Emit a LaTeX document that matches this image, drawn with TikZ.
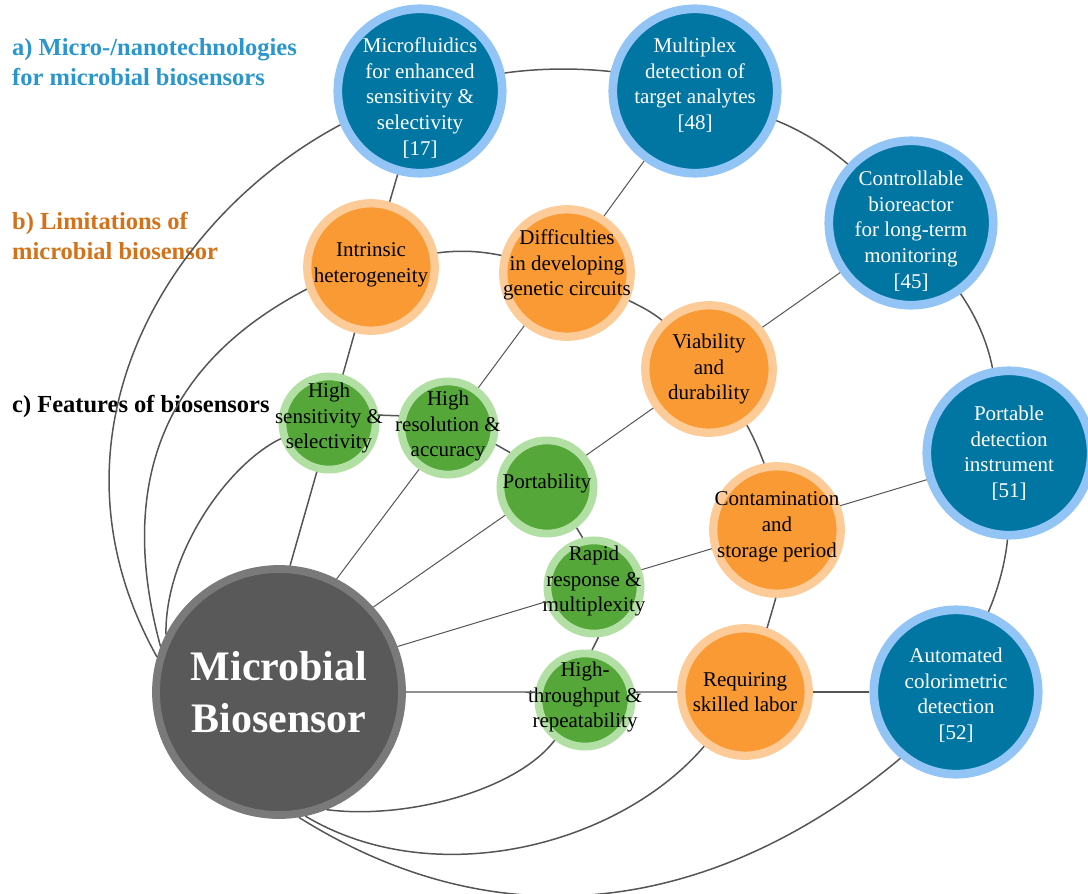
\documentclass[tikz,border=0pt]{standalone}
\usepackage{fontspec}
\setmainfont{Liberation Serif}
\usepackage{xcolor}

\begin{document}
\begin{tikzpicture}[x=1pt,y=-1pt,
  bignode/.style={circle,fill=grayfill,draw=grayring,line width=7.8pt,minimum size=246pt,inner sep=0pt},
  bluenode/.style={circle,fill=bluefill,draw=bluering,line width=8.7pt,minimum size=164.4pt,inner sep=0pt},
  orangenode/.style={circle,fill=orangefill,draw=orangering,line width=8.3pt,minimum size=127.4pt,inner sep=0pt},
  greennode/.style={circle,fill=greenfill,draw=greenring,line width=7.8pt,minimum size=93.2pt,inner sep=0pt},
  nodetext/.style={align=center,inner sep=0pt,font=\fontsize{21}{25.7}\selectfont},
  heading/.style={anchor=base west,align=left,inner sep=0pt,font=\fontsize{24.5}{30}\selectfont\bfseries},
  ring/.style={draw=linegray,line width=1.5pt},
  spoke/.style={draw=linegray,line width=1pt}]
\definecolor{bluefill}{HTML}{0176A2}
\definecolor{bluering}{HTML}{92C5F5}
\definecolor{orangefill}{HTML}{F99A34}
\definecolor{orangering}{HTML}{FDCB98}
\definecolor{greenfill}{HTML}{56A73A}
\definecolor{greenring}{HTML}{B2DFA3}
\definecolor{grayfill}{HTML}{595959}
\definecolor{grayring}{HTML}{7A7A7A}
\definecolor{linegray}{HTML}{555555}
\definecolor{labelblue}{HTML}{2A96CE}
\definecolor{labelorange}{HTML}{D4721A}
\useasboundingbox (0,0) rectangle (1088,894);

\node[heading,labelblue] (heada) at (12,85) {a) Micro-/nanotechnologies\\for microbial biosensors};
\node[heading,labelorange] (headb) at (12,259) {b) Limitations of\\microbial biosensor};
\node[heading] (headc) at (12,412) {c) Features of biosensors};

\node[bignode,label={[nodetext,white,font=\fontsize{42}{52}\selectfont\bfseries]center:{Microbial\\Biosensor}}] (mb) at (279,692) {};

\foreach \nm/\px/\py/\sh/\txt in {micro/420/91/-7/{Microfluidics\\for enhanced\\sensitivity \&\\selectivity\\{[17]}},
  multi/695/91/6/{Multiplex\\detection of\\target analytes\\{[48]}},
  bioreac/911/223/-8/{Controllable\\bioreactor\\for long-term\\monitoring\\{[45]}},
  portdet/1009/453/0/{Portable\\detection\\instrument\\{[51]}},
  autocol/956/692/-3/{Automated\\colorimetric\\detection\\{[52]}}}
  {\node[bluenode,label={[nodetext,white,yshift=\sh]center:\txt}] (\nm) at (\px,\py) {};}

\foreach \nm/\px/\py/\sh/\txt in {hetero/371/267/2/{Intrinsic\\heterogeneity},
  genetic/567/273/8/{Difficulties\\in developing\\genetic circuits},
  viab/709/369/0/{Viability\\and\\durability},
  contam/777/530/3/{Contamination\\and\\storage period},
  labor/745/692/0/{Requiring\\skilled labor}}
  {\node[orangenode,label={[nodetext,yshift=\sh]center:\txt}] (\nm) at (\px,\py) {};}

\foreach \nm/\px/\py/\sh/\txt in {sens/329/423/5/{High\\sensitivity \&\\selectivity},
  resol/448/428/2/{High\\resolution \&\\accuracy},
  portab/547/487/4/{Portability},
  rapid/594/587/6/{Rapid\\response \&\\multiplexity},
  thru/585/700/3/{High-\\throughput \&\\repeatability}}
  {\node[greennode,label={[nodetext,yshift=\sh]center:\txt}] (\nm) at (\px,\py) {};}

\draw[spoke,line width=1.5pt] (mb.85) -- (sens.256);
\draw[spoke,line width=1.5pt] (sens.74) -- (hetero.256);
\draw[spoke,line width=1.5pt] (hetero.74) -- (micro.255);
\draw[spoke] (mb.63) -- (resol.235);
\draw[spoke] (resol.53) -- (genetic.231);
\draw[spoke] (genetic.57) -- (multi.234);
\draw[spoke] (mb.42) -- (portab.214);
\draw[spoke] (portab.39) -- (viab.215);
\draw[spoke] (viab.38) -- (bioreac.215);
\draw[spoke] (mb.21) -- (rapid.197);
\draw[spoke] (rapid.20) -- (contam.196);
\draw[spoke] (contam.21) -- (portdet.198);
\draw[spoke,line width=1.3pt] (mb.0) -- (thru.171);
\draw[spoke,line width=1.3pt] (thru.9) -- (labor.180);
\draw[spoke,line width=1.3pt] (labor.0) -- (autocol.180);

\draw[ring] (sens.9) -- (resol.166);
\draw[ring] (resol.341) -- (portab.137);
\draw[ring] (portab.306) -- (rapid.103);
\draw[ring] (rapid.275) -- (thru.82);

\draw[ring] (hetero.12) .. controls (460,250) and (480,251) .. (genetic.165);
\draw[ring] (genetic.336) .. controls (640,306) and (652,312) .. (viab.134);
\draw[ring] (viab.304) .. controls (754,438) and (759,450) .. (contam.101);
\draw[ring] (contam.269) .. controls (773,608) and (770,618) .. (labor.71);

\draw[ring] (micro.12) .. controls (540,68) and (578,68) .. (multi.167);
\draw[ring] (multi.340) .. controls (800,130) and (825,145) .. (bioreac.137);
\draw[ring] (bioreac.305) .. controls (975,315) and (987,340) .. (portdet.101);
\draw[ring] (portdet.269) .. controls (1005,565) and (997,592) .. (autocol.68);

\draw[ring] (micro.203) .. controls (164,219) and (35,439) .. (mb.164);
\draw[ring] (hetero.199) .. controls (192,349) and (108,453) .. (mb.159);
\draw[ring] (sens.198) .. controls (228,464) and (165,553) .. (mb.153);
\draw[ring] (mb.292) .. controls (407,820) and (517,790) .. (thru.233);
\draw[ring] (mb.282) .. controls (434,893) and (619,846) .. (labor.233);
\draw[ring] (mb.279) .. controls (510,950) and (725,905) .. (autocol.230);
\end{tikzpicture}
\end{document}
